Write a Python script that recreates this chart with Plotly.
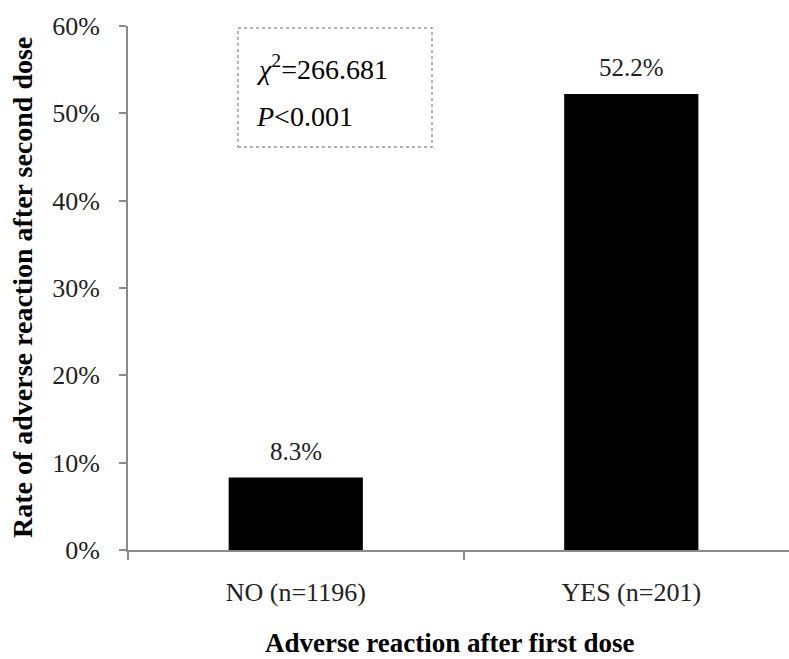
import plotly.graph_objects as go

categories = ["NO (n=1196)", "YES (n=201)"]
rates = [8.3, 52.2]
bar_labels = ["8.3%", "52.2%"]
y_tickvals = [0, 10, 20, 30, 40, 50, 60]
y_ticktext = ["0%", "10%", "20%", "30%", "40%", "50%", "60%"]
stat_lines = ["<i>χ</i><sup>2</sup>=266.681", "<i>P</i>&lt;0.001"]

W, H = 789, 659
L, R, T, B = 128, 0, 26, 109
pw = W - L - R
ph = H - T - B

def px_x(x):
    return (x - L) / pw

def px_y(y):
    return (H - B - y) / ph

font_main = "Liberation Serif, Times New Roman, serif"
axis_col = "#8a8a8a"

fig = go.Figure()
fig.add_trace(go.Bar(
    x=categories, y=rates, width=0.4,
    marker=dict(color="black", line=dict(color="black", width=0)),
    showlegend=False, hoverinfo="skip",
))

annotations = []
for c, v, t in zip(categories, rates, bar_labels):
    annotations.append(dict(x=c, y=v, xref="x", yref="y", text=t, showarrow=False,
                            yanchor="bottom", yshift=11,
                            font=dict(family=font_main, size=25, color="#222")))

annotations.append(dict(x=px_x(22), y=0.5, xref="paper", yref="paper",
                        text="<b>Rate of adverse reaction after second dose</b>",
                        textangle=-90, showarrow=False, xanchor="center", yanchor="middle",
                        font=dict(family=font_main, size=28, color="black")))
annotations.append(dict(x=px_x(449), y=px_y(643), xref="paper", yref="paper",
                        text="<b>Adverse reaction after first dose</b>",
                        showarrow=False, xanchor="center", yanchor="middle",
                        font=dict(family=font_main, size=27, color="black")))
for txt, yy in zip(stat_lines, [67, 117]):
    annotations.append(dict(x=px_x(254), y=px_y(yy), xref="paper", yref="paper",
                            text=txt, showarrow=False, xanchor="left", yanchor="middle",
                            font=dict(family=font_main, size=28, color="black")))

fig.add_shape(type="rect", xref="paper", yref="paper",
              x0=px_x(238), x1=px_x(432), y0=px_y(147), y1=px_y(28),
              line=dict(color="#9a9a9a", width=1.5, dash="dot"))

fig.update_layout(
    width=W, height=H,
    margin=dict(l=L, r=R, t=T, b=B),
    paper_bgcolor="white", plot_bgcolor="white",
    annotations=annotations,
    bargap=0.6,
)
fig.update_xaxes(
    type="category", range=[-0.5, 1.47],
    showline=True, linecolor=axis_col, linewidth=2,
    ticks="outside", tickson="boundaries", ticklen=8, tickcolor=axis_col, tickwidth=2,
    ticklabelstandoff=18,
    tickfont=dict(family=font_main, size=26, color="#222"),
    showgrid=False, zeroline=False,
)
fig.update_yaxes(
    range=[0, 60], tickvals=y_tickvals, ticktext=y_ticktext,
    showline=True, linecolor=axis_col, linewidth=2,
    ticks="outside", ticklen=7, tickcolor=axis_col, tickwidth=2,
    ticklabelstandoff=14,
    tickfont=dict(family=font_main, size=26, color="#222"),
    showgrid=False, zeroline=False,
)

fig.write_html("out.html", config={"displayModeBar": False},
               post_script="document.body.style.margin='0';")
